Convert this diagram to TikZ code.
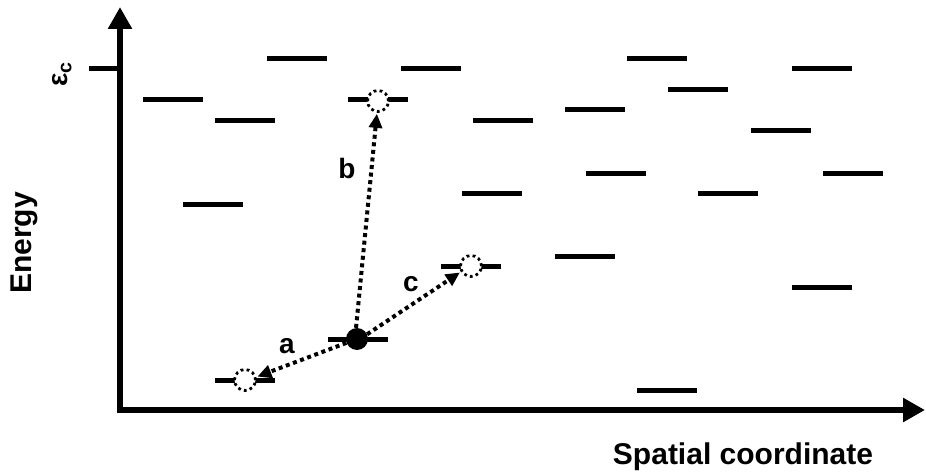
\documentclass[tikz,border=0pt]{standalone}
\usepackage{fontspec}
\setmainfont{Liberation Sans}
\usetikzlibrary{arrows.meta}
\begin{document}
\begin{tikzpicture}[x=1pt,y=-1pt,
  lvl/.style={fill=black,inner sep=0pt,minimum width=60pt,minimum height=5pt,draw=none,rectangle},
  ghost/.style={circle,draw=black,fill=white,line width=2.8pt,dash pattern=on 2.8pt off 3.2pt,minimum size=21pt,inner sep=0pt},
  electron/.style={circle,fill=black,minimum size=22pt,inner sep=0pt},
  hop/.style={line width=4pt,dash pattern=on 4pt off 3.6pt,-{Triangle[length=14pt,width=13pt]}},
  axis/.style={line width=6pt,{Triangle[length=22pt,width=23pt]}-{Triangle[length=22pt,width=23pt]}},
  lbl/.style={font=\fontsize{28}{30}\selectfont\bfseries,inner sep=0pt},
  title/.style={font=\fontsize{30}{32}\selectfont\bfseries,inner sep=0pt}]
\useasboundingbox (0,0) rectangle (926,476);
% axes
\coordinate (ytop) at (120,7);
\coordinate (O) at (120,410);
\coordinate (xend) at (925,410);
\draw[axis] (ytop) -- (O) -- (xend);
% epsilon_c tick
\coordinate (ec) at (89,69);
\coordinate (ec2) at (120,69);
\draw[line width=5pt] (ec) -- (ec2);
\node[rotate=90,font=\fontsize{28}{28}\selectfont\bfseries,inner sep=0pt] (eps) at (62,74) {ε\textsubscript{c}};
% energy levels
\node[lvl] (L1) at (173,100) {};
\node[lvl] (L2) at (245,121) {};
\node[lvl] (L3) at (297,59) {};
\node[lvl] (L4) at (213,204) {};
\node[lvl] (L5) at (378,100) {};
\node[lvl] (L6) at (431,69) {};
\node[lvl] (L7) at (503,121) {};
\node[lvl] (L8) at (492,193) {};
\node[lvl] (L9) at (471,266) {};
\node[lvl] (L10) at (595,110) {};
\node[lvl] (L11) at (616,173) {};
\node[lvl] (L12) at (585,256) {};
\node[lvl] (L13) at (657,59) {};
\node[lvl] (L14) at (698,90) {};
\node[lvl] (L15) at (728,193) {};
\node[lvl] (L16) at (781,131) {};
\node[lvl] (L17) at (822,69) {};
\node[lvl] (L18) at (853,173) {};
\node[lvl] (L19) at (822,287) {};
\node[lvl] (L20) at (667,390) {};
\node[lvl] (L21) at (358,339) {};
\node[lvl] (L22) at (245,380) {};
% sites
\node[ghost] (cb) at (378,101) {};
\node[ghost] (cc) at (471,266) {};
\node[ghost] (ca) at (245,380) {};
\node[electron] (e) at (357,339) {};
% hops
\draw[hop,shorten >=1pt] (e.-160) -- (ca.15);
\draw[hop,shorten >=1pt] (e.95) -- (cb.-95);
\draw[hop,shorten >=1pt] (e.25) -- (cc.-150);
% labels
\node[lbl] (la) at (287,346) {a};
\node[lbl] (lb) at (347,168) {b};
\node[lbl] (lc) at (411,284) {c};
\node[title,rotate=90] (ylab) at (24,243) {Energy};
\node[title] (xlab) at (743,457) {Spatial coordinate};
\end{tikzpicture}
\end{document}
